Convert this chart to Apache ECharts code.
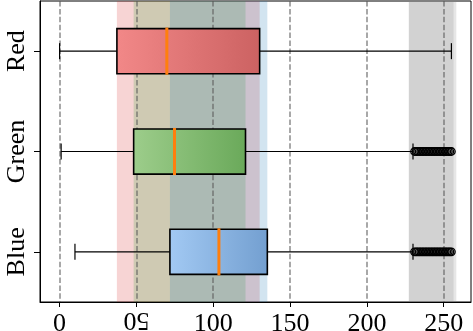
<!DOCTYPE html>
<html><head><meta charset="utf-8">
<script src="https://cdn.jsdelivr.net/npm/echarts@6/dist/echarts.min.js"></script>
<style>html,body{margin:0;padding:0;background:#fff}#c{width:473px;height:331px}</style>
</head><body><div id="c"></div>
<script>
// ---- data ----
const categories = ['Blue', 'Green', 'Red'];
const whiskerLow = [10, 1, 0];
const q1 = [71.8, 48.2, 37.3];
const medians = [103.7, 74.8, 69.8];
const q3 = [135.2, 121.0, 130.2];
const whiskerHigh = [230, 230, 255];
const blueOutliers = [231, 232, 233, 234, 235, 236, 237, 238, 239, 240, 241, 242, 243, 244, 245, 246, 247, 248, 249, 250, 251, 252, 253, 254, 255];
const greenOutliers = [231, 232, 233, 234, 235, 236, 237, 238, 239, 240, 241, 242, 243, 244, 245, 246, 247, 248, 249, 250, 251, 252, 253, 254, 255];
const spanStart = [37.3, 48.2, 71.8, 227.3, 227.3];
const spanEnd = [130.2, 121.0, 135.2, 256.4, 258.2];
const xTicks = [0, 50, 100, 150, 200, 250];
const flippedTicks = [50];
const xMin = -12.75, xMax = 267.75;

// ---- styles ----
const spanColors = ['rgba(214,39,40,0.2)', 'rgba(44,160,44,0.2)', 'rgba(31,119,180,0.2)', 'rgba(128,128,128,0.2)', 'rgba(128,128,128,0.2)'];
const boxGradients = [
  ['#a2c9f3', '#739fd0'],
  ['#9dcd8b', '#6aa95a'],
  ['#f28888', '#cc6262']
];
const FONT = 'Liberation Serif';

const chart = echarts.init(document.getElementById('c'), null, {renderer: 'canvas'});

const boxData = categories.map((c, i) => [i, whiskerLow[i], q1[i], medians[i], q3[i], whiskerHigh[i]]);
const spanData = spanStart.map((s, i) => [s, spanEnd[i]]);
const outlierData = blueOutliers.map(v => [v, 'Blue']).concat(greenOutliers.map(v => [v, 'Green']));

chart.setOption({
  animation: false,
  grid: {left: 40, right: 2, top: 1, bottom: 29, show: true, borderColor: '#000', borderWidth: 1,
    backgroundColor: 'transparent', containLabel: false, outerBoundsMode: 'none'},
  xAxis: [{
    type: 'value', min: xMin, max: xMax, z: 1,
    axisLine: {show: true, onZero: false, lineStyle: {color: '#000', width: 1}},
    axisTick: {show: true, customValues: xTicks, length: 5, lineStyle: {color: '#000', width: 1}},
    axisLabel: {customValues: xTicks, margin: 9, color: '#000', fontFamily: FONT, fontSize: 26,
      formatter: v => (flippedTicks.indexOf(v) >= 0 ? '' : String(v))},
    splitLine: {show: true, lineStyle: {color: 'rgba(90,90,90,0.7)', width: 1.5, type: [5.5, 2.4]}}
  }, {
    type: 'value', min: xMin, max: xMax, position: 'bottom', z: 1,
    axisLine: {show: false, onZero: false}, axisTick: {show: false}, splitLine: {show: false},
    axisLabel: {customValues: flippedTicks, rotate: 180, margin: 5, color: '#000', fontFamily: FONT, fontSize: 26,
      formatter: v => String(v)}
  }],
  yAxis: {
    type: 'category', data: categories, z: 1,
    axisLine: {show: true, onZero: false, lineStyle: {color: '#000', width: 1}},
    axisTick: {show: true, alignWithLabel: true, length: 6, lineStyle: {color: '#000', width: 1}},
    axisLabel: {rotate: 90, margin: 10, color: '#000', fontFamily: FONT, fontSize: 26},
    splitLine: {show: false}
  },
  series: [{
    type: 'custom', z: 0, silent: true,
    data: spanData,
    encode: {x: [0, 1]},
    renderItem: (params, api) => {
      const s = api.coord([api.value(0), 0]);
      const e = api.coord([api.value(1), 0]);
      const cs = params.coordSys;
      return {type: 'rect', shape: {x: s[0], y: cs.y, width: e[0] - s[0], height: cs.height},
        style: {fill: spanColors[params.dataIndex]}};
    }
  }, {
    type: 'custom', z: 2, silent: true,
    data: boxData,
    encode: {y: 0, x: [1, 2, 3, 4, 5]},
    renderItem: (params, api) => {
      const ci = api.value(0);
      const p = k => api.coord([api.value(k), ci]);
      const band = api.size([0, 1])[1];
      const bh = band * 0.45, ch = 16;
      const lo = p(1), y = lo[1];
      const xl = lo[0], xq1 = p(2)[0], xm = p(3)[0], xq3 = p(4)[0], xh = p(5)[0];
      const g = boxGradients[params.dataIndex];
      const ws = {stroke: '#000', lineWidth: 1.2};
      return {type: 'group', children: [
        {type: 'line', shape: {x1: xl, y1: y, x2: xq1, y2: y}, style: ws},
        {type: 'line', shape: {x1: xq3, y1: y, x2: xh, y2: y}, style: ws},
        {type: 'line', shape: {x1: xl, y1: y - ch / 2, x2: xl, y2: y + ch / 2}, style: ws},
        {type: 'line', shape: {x1: xh, y1: y - ch / 2, x2: xh, y2: y + ch / 2}, style: ws},
        {type: 'rect', shape: {x: xq1, y: y - bh / 2, width: xq3 - xq1, height: bh},
          style: {fill: new echarts.graphic.LinearGradient(0, 0, 1, 0, [{offset: 0, color: g[0]}, {offset: 1, color: g[1]}]),
            stroke: '#000', lineWidth: 1.6}},
        {type: 'line', shape: {x1: xm, y1: y - bh / 2 - 1, x2: xm, y2: y + bh / 2 + 1}, style: {stroke: '#ff7f0e', lineWidth: 3}}
      ]};
    }
  }, {
    type: 'scatter', z: 3, silent: true,
    data: outlierData,
    symbol: 'circle', symbolSize: 7.5,
    itemStyle: {color: 'rgba(0,0,0,0)', borderColor: '#000', borderWidth: 1.3, opacity: 1}
  }]
});
</script></body></html>
